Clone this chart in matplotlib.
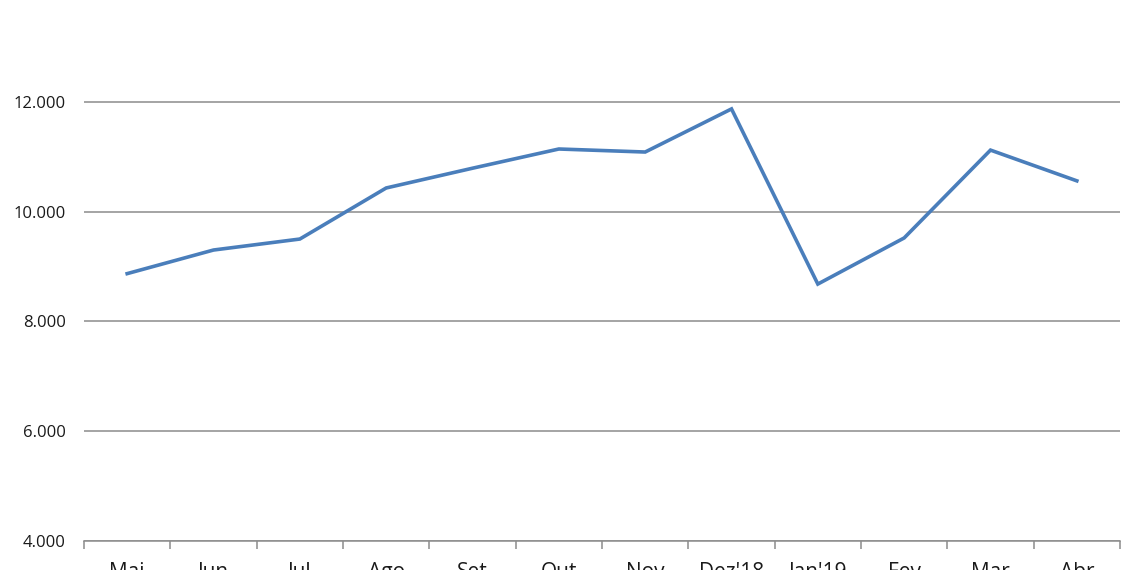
import matplotlib.pyplot as plt
from matplotlib.ticker import FuncFormatter, FixedLocator

# Monthly values
months = ["Mai", "Jun", "Jul", "Ago", "Set", "Out", "Nov", "Dez'18", "Jan'19", "Fev", "Mar", "Abr"]
values = [8870, 9300, 9500, 10430, 10790, 11140, 11085, 11870, 8680, 9520, 11120, 10560]
yticks = [4000, 6000, 8000, 10000, 12000]

plt.rcParams['font.family'] = ['Open Sans', 'DejaVu Sans']

fig = plt.figure(figsize=(11.4, 5.7), dpi=100)
ax = fig.add_axes([84 / 1140, 29 / 570, 1036 / 1140, 541 / 570])

x = range(len(months))
ax.plot(x, values, color='#4a7ebb', linewidth=2.6, solid_joinstyle='miter')

ax.set_xlim(-0.5, len(months) - 0.5)
ax.set_ylim(4000, 13854)

ax.set_yticks(yticks)
ax.yaxis.set_major_formatter(FuncFormatter(lambda v, p: f"{int(v):,}".replace(",", ".")))
ax.grid(axis='y', color='#8c8c8c', linewidth=1.1)
ax.set_axisbelow(True)

# category boundaries get the tick marks, labels sit in the middle
ax.xaxis.set_major_locator(FixedLocator([i - 0.5 for i in range(len(months) + 1)]))
ax.xaxis.set_minor_locator(FixedLocator(list(x)))
ax.set_xticklabels([])
ax.set_xticklabels(months, minor=True)
ax.tick_params(axis='x', which='major', length=6, color='#8c8c8c', width=1.1, direction='out')
ax.tick_params(axis='x', which='minor', length=0, pad=15, labelsize=15, labelcolor='#1a1a1a')
ax.tick_params(axis='y', length=0, pad=13, labelsize=12, labelcolor='#1a1a1a')

for s in ['top', 'right', 'left']:
    ax.spines[s].set_visible(False)
ax.spines['bottom'].set_color('#8c8c8c')
ax.spines['bottom'].set_linewidth(1.1)

fig.savefig('out.png', dpi=100)
